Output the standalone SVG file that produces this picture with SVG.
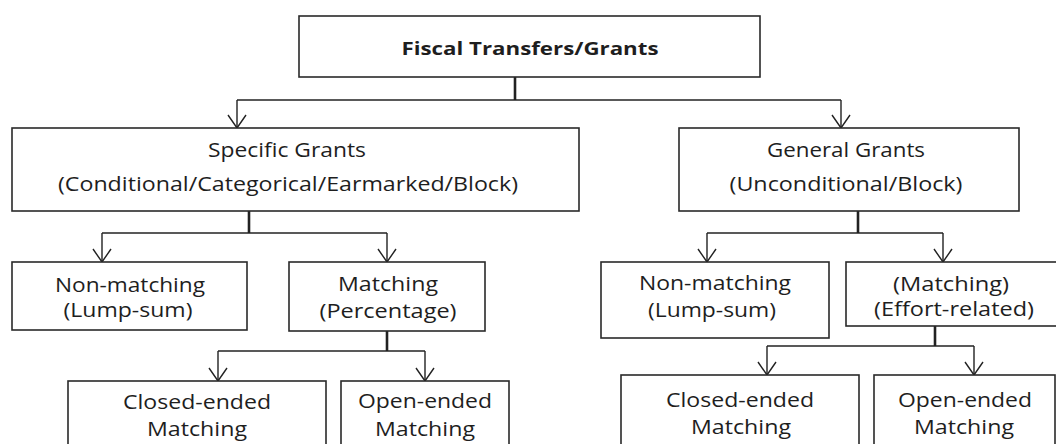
<svg xmlns="http://www.w3.org/2000/svg" width="1056" height="444" viewBox="0 0 1056 444">
<defs>
<marker id="arr" markerUnits="userSpaceOnUse" orient="auto" markerWidth="30" markerHeight="30" refX="0" refY="0" viewBox="-15 -15 30 30" overflow="visible">
<path d="M-13,-9 L0,0 L-13,9" fill="none" stroke="#222" stroke-width="1.4"/>
</marker>
<style>
.box{fill:#fff;stroke:#2a2a2a;stroke-width:1.6}
.t{font-family:"Open Sans","Noto Sans",sans-serif;font-size:20px;fill:#1e1e1e;text-anchor:middle}
.b{font-weight:bold;font-size:17.5px}
.ln{fill:none;stroke:#222;stroke-width:1.6}
.stem{fill:none;stroke:#222;stroke-width:2.6}
.ar{fill:none;stroke:#222;stroke-width:1.4;marker-end:url(#arr)}
</style>
</defs>
<rect width="1056" height="444" fill="#fff"/>
<g id="connectors">
<line class="stem" x1="515" y1="77" x2="515" y2="100"/>
<line class="ln" x1="237" y1="100" x2="841" y2="100"/>
<line class="ar" x1="237" y1="100" x2="237" y2="128"/>
<line class="ar" x1="841" y1="100" x2="841" y2="128"/>
<line class="stem" x1="249" y1="211" x2="249" y2="233"/>
<line class="ln" x1="102" y1="233" x2="387" y2="233"/>
<line class="ar" x1="102" y1="233" x2="102" y2="262"/>
<line class="ar" x1="387" y1="233" x2="387" y2="262"/>
<line class="stem" x1="858" y1="211" x2="858" y2="233"/>
<line class="ln" x1="707" y1="233" x2="943" y2="233"/>
<line class="ar" x1="707" y1="233" x2="707" y2="262"/>
<line class="ar" x1="943" y1="233" x2="943" y2="262"/>
<line class="stem" x1="387" y1="331" x2="387" y2="351"/>
<line class="ln" x1="218" y1="351" x2="425" y2="351"/>
<line class="ar" x1="218" y1="351" x2="218" y2="381"/>
<line class="ar" x1="425" y1="351" x2="425" y2="381"/>
<line class="stem" x1="935" y1="326" x2="935" y2="346"/>
<line class="ln" x1="767" y1="346" x2="974" y2="346"/>
<line class="ar" x1="767" y1="346" x2="767" y2="375"/>
<line class="ar" x1="974" y1="346" x2="974" y2="375"/>
</g>
<g id="root">
<rect class="box" x="299" y="16" width="461" height="61"/>
<text class="t b" x="530" y="55" textLength="257" lengthAdjust="spacingAndGlyphs">Fiscal Transfers/Grants</text>
</g>
<g id="specific">
<rect class="box" x="12" y="128" width="567" height="83"/>
<text class="t" x="287" y="157" textLength="158" lengthAdjust="spacingAndGlyphs">Specific Grants</text>
<text class="t" x="288" y="191" textLength="460" lengthAdjust="spacingAndGlyphs">(Conditional/Categorical/Earmarked/Block)</text>
</g>
<g id="general">
<rect class="box" x="679" y="128" width="340" height="83"/>
<text class="t" x="846" y="157" textLength="158" lengthAdjust="spacingAndGlyphs">General Grants</text>
<text class="t" x="846" y="191" textLength="233" lengthAdjust="spacingAndGlyphs">(Unconditional/Block)</text>
</g>
<g id="nonmatching-specific">
<rect class="box" x="12" y="262" width="235" height="68"/>
<text class="t" x="130" y="292" textLength="150" lengthAdjust="spacingAndGlyphs">Non-matching</text>
<text class="t" x="128" y="317" textLength="129" lengthAdjust="spacingAndGlyphs">(Lump-sum)</text>
</g>
<g id="matching-specific">
<rect class="box" x="289" y="262" width="196" height="69"/>
<text class="t" x="388" y="291" textLength="100" lengthAdjust="spacingAndGlyphs">Matching</text>
<text class="t" x="388" y="318" textLength="137" lengthAdjust="spacingAndGlyphs">(Percentage)</text>
</g>
<g id="closed-specific">
<rect class="box" x="68" y="381" width="258" height="80"/>
<text class="t" x="197" y="409" textLength="148" lengthAdjust="spacingAndGlyphs">Closed-ended</text>
<text class="t" x="197" y="436" textLength="100" lengthAdjust="spacingAndGlyphs">Matching</text>
</g>
<g id="open-specific">
<rect class="box" x="341" y="381" width="168" height="80"/>
<text class="t" x="425" y="408" textLength="134" lengthAdjust="spacingAndGlyphs">Open-ended</text>
<text class="t" x="425" y="436" textLength="100" lengthAdjust="spacingAndGlyphs">Matching</text>
</g>
<g id="nonmatching-general">
<rect class="box" x="601" y="262" width="228" height="76"/>
<text class="t" x="715" y="290" textLength="152" lengthAdjust="spacingAndGlyphs">Non-matching</text>
<text class="t" x="712" y="317" textLength="128" lengthAdjust="spacingAndGlyphs">(Lump-sum)</text>
</g>
<g id="matching-general">
<rect class="box" x="846" y="262" width="220" height="64"/>
<text class="t" x="951" y="291" textLength="116" lengthAdjust="spacingAndGlyphs">(Matching)</text>
<text class="t" x="954" y="316" textLength="160" lengthAdjust="spacingAndGlyphs">(Effort-related)</text>
</g>
<g id="closed-general">
<rect class="box" x="621" y="375" width="238" height="80"/>
<text class="t" x="740" y="407" textLength="148" lengthAdjust="spacingAndGlyphs">Closed-ended</text>
<text class="t" x="741" y="434" textLength="100" lengthAdjust="spacingAndGlyphs">Matching</text>
</g>
<g id="open-general">
<rect class="box" x="874" y="375" width="181" height="80"/>
<text class="t" x="965" y="407" textLength="134" lengthAdjust="spacingAndGlyphs">Open-ended</text>
<text class="t" x="964" y="434" textLength="100" lengthAdjust="spacingAndGlyphs">Matching</text>
</g>
</svg>
